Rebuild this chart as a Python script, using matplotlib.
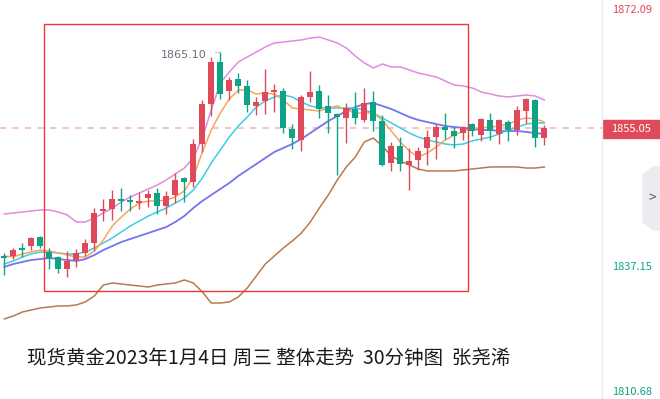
import numpy as np
import matplotlib
matplotlib.use('Agg')
import matplotlib.pyplot as plt
from matplotlib.patches import Rectangle, Polygon

plt.rcParams['font.family'] = ['Noto Sans CJK SC', 'DejaVu Sans']

## 30分钟K线 (红=涨, 绿=跌)
opens = [1838.13, 1838.13, 1839.19, 1839.45, 1840.64, 1838.66, 1838.00, 1836.41, 1837.60, 1838.53,
         1839.85, 1844.08, 1844.35, 1845.67, 1845.54, 1845.14, 1845.80, 1846.47, 1844.75, 1846.20,
         1848.45, 1847.92, 1852.95, 1858.24, 1863.80, 1859.96, 1861.55, 1860.62, 1857.98, 1858.64,
         1859.83, 1859.96, 1854.93, 1853.48, 1859.17, 1859.96, 1857.98, 1856.92, 1856.39, 1857.58,
         1856.12, 1858.51, 1855.99, 1850.44, 1852.68, 1850.17, 1850.83, 1852.42, 1853.87, 1855.20,
         1854.67, 1854.40, 1855.59, 1854.14, 1856.12, 1854.27, 1855.86, 1854.80, 1857.31, 1858.77,
         1853.74]
highs = [1838.53, 1839.19, 1839.85, 1840.64, 1840.78, 1839.19, 1838.13, 1838.79, 1839.06, 1840.38,
         1844.48, 1845.67, 1846.86, 1847.13, 1846.20, 1846.60, 1846.86, 1847.13, 1846.73, 1849.11,
         1848.58, 1853.61, 1858.77, 1864.46, 1865.10, 1861.81, 1862.34, 1861.42, 1859.17, 1862.87,
         1860.89, 1860.36, 1855.59, 1859.43, 1862.61, 1860.75, 1859.43, 1857.05, 1858.37, 1859.83,
         1860.36, 1859.96, 1856.79, 1853.21, 1853.87, 1852.42, 1852.55, 1854.80, 1855.59, 1857.05,
         1855.20, 1855.33, 1855.73, 1856.39, 1857.05, 1856.26, 1856.12, 1857.98, 1859.03, 1858.90,
         1855.46]
lows = [1835.62, 1837.73, 1838.00, 1838.92, 1839.19, 1836.41, 1835.88, 1835.35, 1836.68, 1838.13,
        1838.79, 1842.76, 1842.89, 1844.08, 1844.08, 1844.35, 1844.61, 1843.69, 1843.69, 1845.14,
        1845.28, 1847.26, 1851.89, 1856.65, 1858.90, 1858.77, 1859.70, 1857.18, 1856.79, 1856.92,
        1857.18, 1854.40, 1852.29, 1852.02, 1858.51, 1856.39, 1854.40, 1848.85, 1853.08, 1855.59,
        1855.86, 1854.67, 1850.04, 1849.38, 1849.38, 1846.86, 1849.51, 1850.17, 1850.96, 1853.61,
        1852.42, 1853.48, 1854.01, 1853.35, 1853.48, 1852.95, 1853.35, 1854.14, 1855.73, 1852.55,
        1852.82]
closes = [1837.87, 1838.92, 1838.92, 1840.51, 1839.45, 1837.87, 1836.41, 1837.47, 1838.53, 1839.85,
          1843.82, 1844.35, 1845.67, 1845.41, 1845.28, 1845.41, 1846.33, 1844.75, 1846.07, 1848.19,
          1847.92, 1852.95, 1858.24, 1863.80, 1859.56, 1861.42, 1860.62, 1858.11, 1858.51, 1859.83,
          1860.09, 1855.07, 1853.74, 1859.17, 1859.83, 1857.58, 1857.05, 1856.52, 1857.71, 1856.39,
          1858.37, 1855.99, 1850.17, 1852.68, 1850.30, 1850.70, 1852.02, 1853.87, 1855.20, 1854.80,
          1854.01, 1855.20, 1854.67, 1856.26, 1854.67, 1856.12, 1854.80, 1857.45, 1858.90, 1853.74,
          1855.05]

## 均线 / 布林带
ma5 = [1838.13, 1838.00, 1838.40, 1838.66, 1838.92, 1838.79, 1838.53, 1838.26, 1838.00, 1838.00,
       1838.79, 1840.25, 1842.10, 1843.29, 1844.35, 1845.14, 1845.41, 1845.41, 1845.54, 1845.94,
       1846.73, 1848.58, 1851.89, 1854.80, 1857.05, 1858.90, 1860.09, 1860.09, 1859.56, 1859.70,
       1859.56, 1858.77, 1857.71, 1857.58, 1857.45, 1857.31, 1857.71, 1857.98, 1857.45, 1857.05,
       1857.05, 1857.05, 1856.12, 1854.67, 1853.21, 1852.02, 1851.23, 1851.76, 1852.55, 1853.48,
       1854.14, 1854.67, 1854.93, 1855.07, 1855.20, 1855.33, 1855.59, 1856.12, 1856.39, 1856.26,
       1855.86]
ma10 = [1837.07, 1837.47, 1838.00, 1838.40, 1838.66, 1838.66, 1838.53, 1838.40, 1838.40, 1838.66,
        1839.19, 1839.85, 1840.51, 1841.31, 1842.10, 1842.76, 1843.42, 1843.95, 1844.48, 1845.14,
        1845.80, 1846.86, 1848.45, 1850.44, 1852.15, 1853.87, 1855.33, 1856.52, 1857.84, 1858.64,
        1859.17, 1859.43, 1859.17, 1858.51, 1857.98, 1857.71, 1857.71, 1857.71, 1857.71, 1857.71,
        1857.45, 1857.05, 1856.39, 1855.73, 1855.07, 1854.40, 1853.87, 1853.48, 1853.21, 1852.95,
        1852.82, 1852.95, 1853.35, 1853.61, 1853.87, 1854.27, 1854.80, 1855.20, 1855.59, 1855.73,
        1855.73]
mid = [1836.68, 1837.07, 1837.34, 1837.60, 1837.73, 1837.87, 1837.73, 1837.60, 1837.47, 1837.73,
       1838.26, 1838.92, 1839.45, 1839.98, 1840.38, 1840.78, 1841.17, 1841.57, 1841.97, 1842.63,
       1843.42, 1844.48, 1845.41, 1846.20, 1847.00, 1847.79, 1848.72, 1849.51, 1850.30, 1851.10,
       1851.89, 1852.42, 1852.95, 1853.61, 1854.40, 1855.20, 1855.99, 1856.65, 1857.31, 1857.84,
       1858.24, 1858.37, 1857.98, 1857.58, 1857.05, 1856.52, 1856.12, 1855.86, 1855.59, 1855.33,
       1855.20, 1855.07, 1854.93, 1854.80, 1854.80, 1854.67, 1854.67, 1854.67, 1854.54, 1854.40,
       1854.27]
upper = [1843.69, 1843.82, 1843.95, 1844.08, 1844.22, 1844.22, 1843.95, 1843.56, 1842.63, 1842.63,
         1843.16, 1843.82, 1844.48, 1845.28, 1845.94, 1846.47, 1847.00, 1847.52, 1848.19, 1848.98,
         1849.77, 1851.10, 1853.74, 1857.45, 1861.02, 1862.47, 1863.80, 1864.46, 1865.12, 1865.78,
         1866.31, 1866.44, 1866.58, 1866.71, 1866.97, 1867.10, 1866.71, 1866.31, 1865.65, 1864.59,
         1863.67, 1863.00, 1863.53, 1863.14, 1863.14, 1862.74, 1862.34, 1862.08, 1861.81, 1861.28,
         1860.75, 1860.62, 1860.36, 1859.83, 1859.56, 1859.30, 1859.17, 1859.30, 1859.43, 1859.30,
         1858.77]
lower = [1829.80, 1830.19, 1830.72, 1830.99, 1831.25, 1831.38, 1831.52, 1831.52, 1831.65, 1832.05,
         1832.84, 1834.29, 1834.56, 1834.43, 1834.29, 1834.16, 1834.03, 1834.29, 1834.43, 1834.56,
         1834.96, 1834.56, 1833.37, 1831.91, 1831.91, 1832.05, 1832.71, 1833.90, 1835.49, 1837.07,
         1838.13, 1839.19, 1840.12, 1841.17, 1842.63, 1844.48, 1846.20, 1848.19, 1849.91, 1851.23,
         1853.21, 1853.74, 1852.68, 1851.36, 1850.70, 1850.17, 1849.64, 1849.38, 1849.38, 1849.38,
         1849.38, 1849.51, 1849.64, 1849.77, 1849.91, 1849.91, 1849.91, 1849.91, 1849.77, 1849.77,
         1849.91]

last_price = 1855.05
high_mark = 1865.10
axis_labels = ['1872.09', '1837.15', '1810.68']
title = '现货黄金2023年1月4日 周三 整体走势  30分钟图  张尧浠'

# 画框区域 (K线序号, 价格)
box_x = [4.41, 51.52]
box_y = [1833.50, 1868.82]

RED = '#de4a59'
GREEN = '#0fa386'

W, H = 660, 399
fig = plt.figure(figsize=(W / 100, H / 100), dpi=100)
fig.patch.set_facecolor('white')
ax = fig.add_axes([0, 0, 602 / W, 1])
ax.set_xlim(-0.48, 66.41)
ax.set_ylim(1819.21, 1872.0)
ax.axis('off')

x = np.arange(len(opens))

# 均线
ax.plot(x, upper, color='#e08be0', lw=1.1, zorder=2)
ax.plot(x, lower, color='#b9794f', lw=1.1, zorder=2)
ax.plot(x, mid, color='#7474f2', lw=1.3, zorder=2)
ax.plot(x, ma10, color='#3fcde2', lw=1.1, zorder=2)
ax.plot(x, ma5, color='#f9a45a', lw=1.1, zorder=2)

# K线
for i in range(len(opens)):
    o, h, l, c = opens[i], highs[i], lows[i], closes[i]
    col = RED if c >= o else GREEN
    ax.vlines(x[i], l, h, color=col, lw=1.0, zorder=3)
    bot = min(o, c)
    hgt = max(abs(c - o), 0.15)
    ax.bar(x[i], hgt, bottom=bot, width=0.68, color=col, zorder=4)

# 现价虚线
ax.axhline(last_price, color='#f2c4cc', lw=1.5, ls=(0, (3, 3)), zorder=1)

# 最高价标注
ax.plot([23.4, 24], [high_mark, high_mark], color='#888', lw=0.8, ls=':', zorder=5)
ax.text(22.5, high_mark - 0.4, '%.2f' % high_mark, color='#6b6e7c', fontsize=8,
        ha='right', va='center', family=['DejaVu Sans'])

# 红色框
ax.add_patch(Rectangle((box_x[0], box_y[0]), box_x[1] - box_x[0], box_y[1] - box_y[0],
                       fill=False, edgecolor='#e8393c', lw=1.0, zorder=6))

# 右侧价格轴
fig.add_artist(plt.Line2D([602 / W, 602 / W], [0, 1], color='#ececec', lw=1))
lab_col = [RED, GREEN, GREEN]
lab_y = [10, 267, 392]
for t, yy, cc in zip(axis_labels, lab_y, lab_col):
    fig.text(632 / W, 1 - yy / H, t, color=cc, fontsize=8, ha='center', va='center')

fig.add_artist(Rectangle((603 / W, 1 - 138 / H), 56 / W, 18 / H, color=RED,
                         transform=fig.transFigure))
fig.text(631 / W, 1 - 129 / H, '%.2f' % last_price, color='white', fontsize=8,
         ha='center', va='center')

tab = [(660, 167), (653, 167), (643, 175), (643, 222), (653, 230), (660, 230)]
fig.add_artist(Polygon([(px / W, 1 - py / H) for px, py in tab], closed=True,
                       color='#ececf0', transform=fig.transFigure))
fig.text(652 / W, 1 - 198 / H, '>', color='#5a5e6e', fontsize=10, ha='center', va='center')

# 标题
fig.text(27 / W, 1 - 358 / H, title, color='#1a1a1a', fontsize=14, ha='left', va='center')

fig.savefig('out.png', dpi=100)
